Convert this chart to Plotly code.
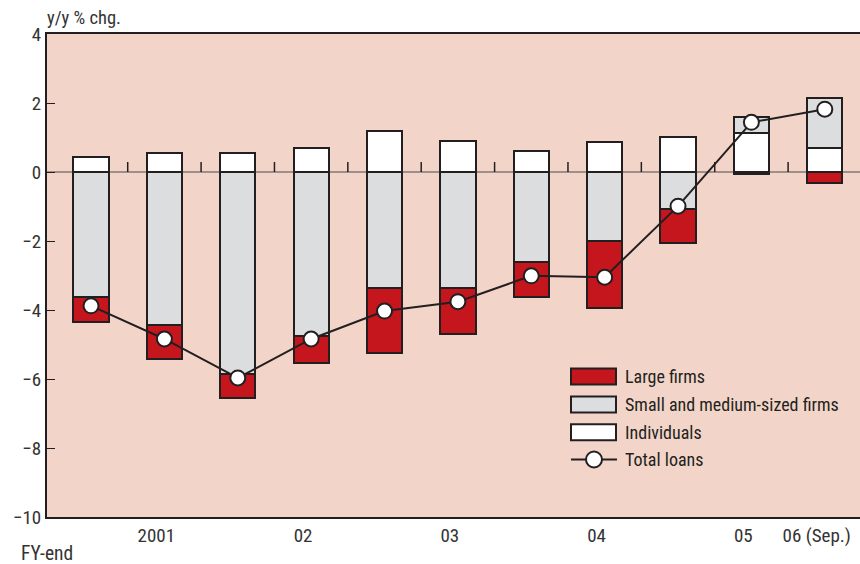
import plotly.graph_objects as go

# ---- data (y/y % chg.) ----
categories = ["", "2001", "", "02", "", "03", "", "04", "", "05", "06 (Sep.)"]
individuals = [0.43, 0.54, 0.54, 0.70, 1.18, 0.91, 0.60, 0.87, 1.02, 1.13, 0.70]
sme_firms = [-3.62, -4.43, -5.85, -4.75, -3.36, -3.36, -2.60, -2.00, -1.08, 0.46, 1.44]
large_firms = [-0.72, -0.99, -0.70, -0.79, -1.89, -1.34, -1.03, -1.94, -0.99, -0.05, -0.33]
total_loans = [-3.88, -4.84, -5.97, -4.84, -4.03, -3.76, -3.01, -3.05, -0.99, 1.44, 1.82]
y_ticks = [4, 2, 0, -2, -4, -6, -8, -10]

W, H = 860, 564
ML, MR, MT, MB = 47, 0, 34, 47
PW, PH = W - ML - MR, H - MT - MB

DARK = "#231F20"
RED = "#C4161C"
GRAY = "#DCDDDE"
WHITE = "#FFFFFF"
BG = "#F2D5C8"
FONT = "Liberation Sans Narrow, Arial Narrow, Roboto Condensed, Liberation Sans, Arial, sans-serif"

n = len(categories)
xs = list(range(n))

def px(xp):
    return (xp - ML) / PW

def py(yp):
    return (H - MB - yp) / PH

fig = go.Figure()
outline = dict(color=DARK, width=2)
fig.add_trace(go.Bar(x=xs, y=individuals, name="Individuals", width=0.48,
                     marker=dict(color=WHITE, line=outline), showlegend=False))
fig.add_trace(go.Bar(x=xs, y=sme_firms, name="Small and medium-sized firms", width=0.48,
                     marker=dict(color=GRAY, line=outline), showlegend=False))
fig.add_trace(go.Bar(x=xs, y=large_firms, name="Large firms", width=0.48,
                     marker=dict(color=RED, line=outline), showlegend=False))
fig.add_trace(go.Scatter(x=xs, y=total_loans, name="Total loans", mode="lines+markers",
                         line=dict(color=DARK, width=2),
                         marker=dict(size=15, color=WHITE, line=dict(color=DARK, width=2)),
                         showlegend=False))

shapes = []
# zero line
shapes.append(dict(type="line", xref="paper", yref="y", x0=0, x1=1, y0=0, y1=0,
                   line=dict(color="#4a4a4a", width=1), layer="below"))
# small separator ticks on zero line between bars
for i in range(n - 1):
    shapes.append(dict(type="line", xref="x", yref="y", x0=i + 0.5, x1=i + 0.5,
                       y0=0, y1=10, ysizemode="pixel", yanchor=0,
                       line=dict(color=DARK, width=1.5), layer="below"))

# manual legend
LEG_FONT = dict(size=18, color=DARK, family=FONT)
legend_items = [("Large firms", RED, 376.5), ("Small and medium-sized firms", GRAY, 404.5),
                ("Individuals", WHITE, 432.3)]
annotations = []
for label, col, yc in legend_items:
    shapes.append(dict(type="rect", xref="paper", yref="paper",
                       x0=px(571), x1=px(616), y0=py(yc + 8), y1=py(yc - 8),
                       fillcolor=col, line=dict(color=DARK, width=2)))
    annotations.append(dict(text=label, xref="paper", yref="paper", x=px(623), y=py(yc),
                            xanchor="left", yanchor="middle", showarrow=False,
                            font=LEG_FONT))
yl = 459.5
shapes.append(dict(type="line", xref="paper", yref="paper", x0=px(571), x1=px(617),
                   y0=py(yl), y1=py(yl), line=dict(color=DARK, width=2)))
shapes.append(dict(type="circle", xref="paper", yref="paper", xsizemode="pixel", ysizemode="pixel",
                   xanchor=px(594), yanchor=py(yl), x0=-8, x1=8, y0=-8, y1=8,
                   fillcolor=WHITE, line=dict(color=DARK, width=2)))
annotations.append(dict(text="Total loans", xref="paper", yref="paper", x=px(623), y=py(yl),
                        xanchor="left", yanchor="middle", showarrow=False,
                        font=LEG_FONT))

annotations.append(dict(text="y/y % chg.", xref="paper", yref="paper", x=px(45), y=py(18),
                        xanchor="left", yanchor="middle", showarrow=False,
                        font=dict(size=18.5, color="#333", family=FONT)))
annotations.append(dict(text="FY-end", xref="paper", yref="paper", x=px(19), y=py(553),
                        xanchor="left", yanchor="middle", showarrow=False,
                        font=dict(size=19.5, color="#333", family=FONT)))

tick_idx = [i for i, c in enumerate(categories) if c]
fig.update_layout(
    width=W, height=H,
    margin=dict(l=ML, r=MR, t=MT, b=MB, pad=0),
    paper_bgcolor="white", plot_bgcolor=BG,
    barmode="relative", bargap=0,
    showlegend=False,
    shapes=shapes, annotations=annotations,
    font=dict(family=FONT, color="#333"),
    xaxis=dict(range=[-0.6, 10.48], showgrid=False, zeroline=False,
               showline=True, linecolor=DARK, linewidth=2, mirror=True,
               ticks="", tickvals=[i - 0.11 for i in tick_idx],
               ticktext=[categories[i] for i in tick_idx],
               tickfont=dict(size=19, color="#333", family=FONT)),
    yaxis=dict(range=[-10, 4], showgrid=False, zeroline=False,
               showline=True, linecolor=DARK, linewidth=2,
               ticks="inside", ticklen=8, tickcolor=DARK, tickwidth=1,
               tickvals=y_ticks,
               ticktext=[str(v).replace("-", "\u2212") for v in y_ticks],
               tickfont=dict(size=19, color="#333", family=FONT)),
)

fig.write_html("out.html")
